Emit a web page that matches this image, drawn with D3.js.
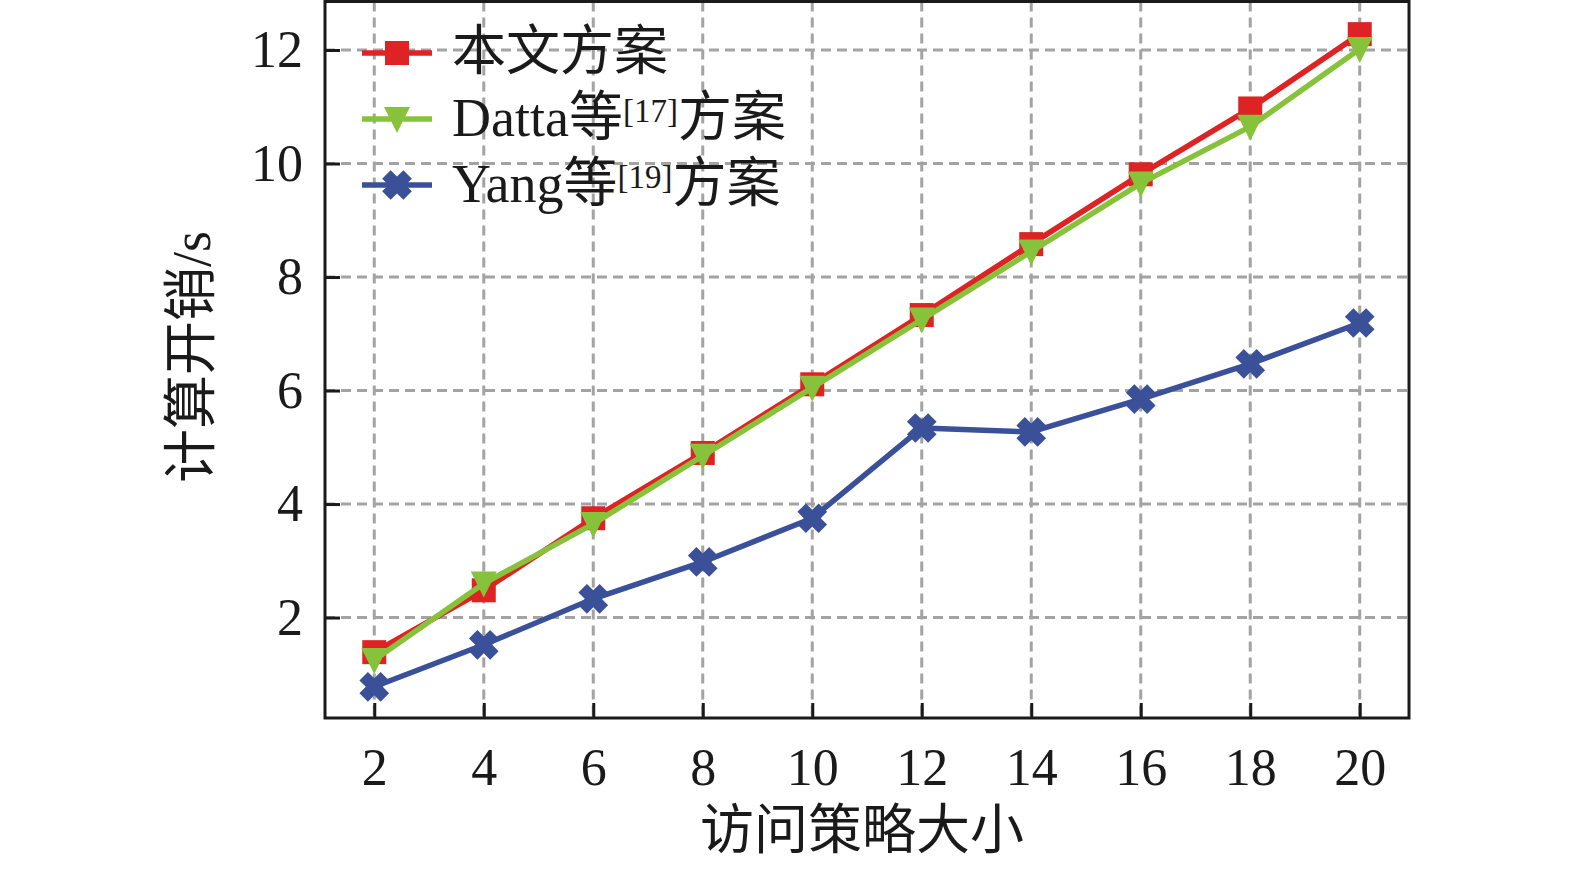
<!DOCTYPE html>
<html>
<head>
<meta charset="utf-8">
<script src="https://cdn.jsdelivr.net/npm/d3@7"></script>
<style>
  body { margin: 0; background: #fff; }
  text { font-family: "Liberation Serif", "Noto Sans CJK SC", serif; fill: #1a1a1a; }
</style>
</head>
<body>
<div id="chart"></div>
<script>
// data
const policySize = [2, 4, 6, 8, 10, 12, 14, 16, 18, 20];
const oursCost   = [1.39, 2.48, 3.75, 4.9, 6.11, 7.33, 8.58, 9.81, 10.97, 12.28];
const dattaCost  = [1.25, 2.6, 3.65, 4.85, 6.05, 7.25, 8.45, 9.65, 10.65, 12.02];
const yangCost   = [0.78, 1.52, 2.33, 2.98, 3.75, 5.34, 5.27, 5.85, 6.47, 7.19];
const yTicks = [2, 4, 6, 8, 10, 12];

const series = [
  {name: "本文方案", ref: null, values: oursCost, color: "#dd2323", marker: "square"},
  {name: "Datta等", ref: "[17]", values: dattaCost, color: "#86c33a", marker: "triangle"},
  {name: "Yang等", ref: "[19]", values: yangCost, color: "#3a5199", marker: "cross"}
];

// svg dimensions and margins
const svgWidth = 1575, svgHeight = 871;
const margin = {top: 1.5, right: 166, bottom: 153, left: 325};
const width = svgWidth - margin.left - margin.right;
const height = svgHeight - margin.top - margin.bottom;

let svg = d3.select("#chart")
  .append("svg")
  .attr("width", svgWidth)
  .attr("height", svgHeight)
  .append("g")
  .attr("transform", "translate(" + margin.left + "," + margin.top + ")");

var xScale = d3.scaleLinear().domain([1.1, 20.9]).range([0, width]);
var yScale = d3.scaleLinear().domain([0.23, 12.855]).range([height, 0]);

// grid lines
svg.append("g")
  .selectAll("line")
  .data(policySize)
  .join("line")
    .attr("x1", d => xScale(d)).attr("x2", d => xScale(d))
    .attr("y1", 0).attr("y2", height)
    .attr("stroke", "#a3a3a3").attr("stroke-width", 3)
    .attr("stroke-dasharray", "10,6");
svg.append("g")
  .selectAll("line")
  .data(yTicks)
  .join("line")
    .attr("y1", d => yScale(d)).attr("y2", d => yScale(d))
    .attr("x1", 0).attr("x2", width)
    .attr("stroke", "#a3a3a3").attr("stroke-width", 3)
    .attr("stroke-dasharray", "10,6");

// axes, ticks inward
let xAxis = svg.append("g")
  .attr("transform", "translate(0," + height + ")")
  .call(d3.axisBottom(xScale).tickValues(policySize).tickSizeInner(-15).tickSizeOuter(0).tickPadding(30));
let yAxis = svg.append("g")
  .call(d3.axisLeft(yScale).tickValues(yTicks).tickSizeInner(-15).tickSizeOuter(0).tickPadding(22));
[xAxis, yAxis].forEach(a => {
  a.select(".domain").remove();
  a.selectAll(".tick line").attr("stroke", "#1a1a1a").attr("stroke-width", 3);
  a.selectAll(".tick text")
    .style("font-family", "Liberation Serif")
    .style("font-size", "52px")
    .attr("fill", "#1a1a1a");
});

// frame
svg.append("rect")
  .attr("x", 0).attr("y", 0)
  .attr("width", width).attr("height", height)
  .attr("fill", "none").attr("stroke", "#1a1a1a").attr("stroke-width", 3);

// marker shapes
function drawMarker(g, type, color) {
  if (type === "square") {
    g.append("rect").attr("x", -12).attr("y", -12).attr("width", 24).attr("height", 24).attr("fill", color);
  } else if (type === "triangle") {
    g.append("path").attr("d", "M-13,-12 L13,-12 L0,14 Z").attr("fill", color);
  } else {
    // chunky X: a plus with thick arms turned 45 degrees
    const a = 6, l = 15;
    g.append("path")
      .attr("d", "M" + -a + "," + -l + "H" + a + "V" + -a + "H" + l + "V" + a + "H" + a + "V" + l +
                 "H" + -a + "V" + a + "H" + -l + "V" + -a + "H" + -a + "Z")
      .attr("transform", "rotate(45)")
      .attr("fill", color);
  }
}

// lines and markers
series.forEach(s => {
  const pts = policySize.map((x, i) => ({x: x, y: s.values[i]}));
  svg.append("path")
    .datum(pts)
    .attr("fill", "none")
    .attr("stroke", s.color)
    .attr("stroke-width", 5.5)
    .attr("stroke-linejoin", "round")
    .attr("d", d3.line().x(d => xScale(d.x)).y(d => yScale(d.y)));
  pts.forEach(p => {
    let g = svg.append("g").attr("transform", "translate(" + xScale(p.x) + "," + yScale(p.y) + ")");
    drawMarker(g, s.marker, s.color);
  });
});

// legend
let legend = svg.append("g").attr("transform", "translate(37,51.5)");
series.forEach((s, i) => {
  let row = legend.append("g").attr("transform", "translate(0," + (i * 66) + ")");
  row.append("line").attr("x1", 0).attr("x2", 70).attr("y1", 0).attr("y2", 0)
    .attr("stroke", s.color).attr("stroke-width", 5.5);
  let m = row.append("g").attr("transform", "translate(35,0)");
  drawMarker(m, s.marker, s.color);
  let t = row.append("text").attr("x", 90).attr("y", 17).style("font-size", "54px");
  t.append("tspan").text(s.name);
  if (s.ref) {
    t.append("tspan").attr("dy", -14).style("font-size", "33px").text(s.ref);
    t.append("tspan").attr("dy", 14).text("方案");
  }
});

// axis labels
svg.append("text")
  .attr("text-anchor", "middle")
  .attr("x", 862 - margin.left)
  .attr("y", height + 131)
  .style("font-size", "54px")
  .text("访问策略大小");
svg.append("text")
  .attr("text-anchor", "middle")
  .attr("dominant-baseline", "central")
  .attr("transform", "translate(" + (192 - margin.left) + "," + (357 - margin.top) + ") rotate(-90)")
  .style("font-size", "54px")
  .text("计算开销/s");
</script>
</body>
</html>
